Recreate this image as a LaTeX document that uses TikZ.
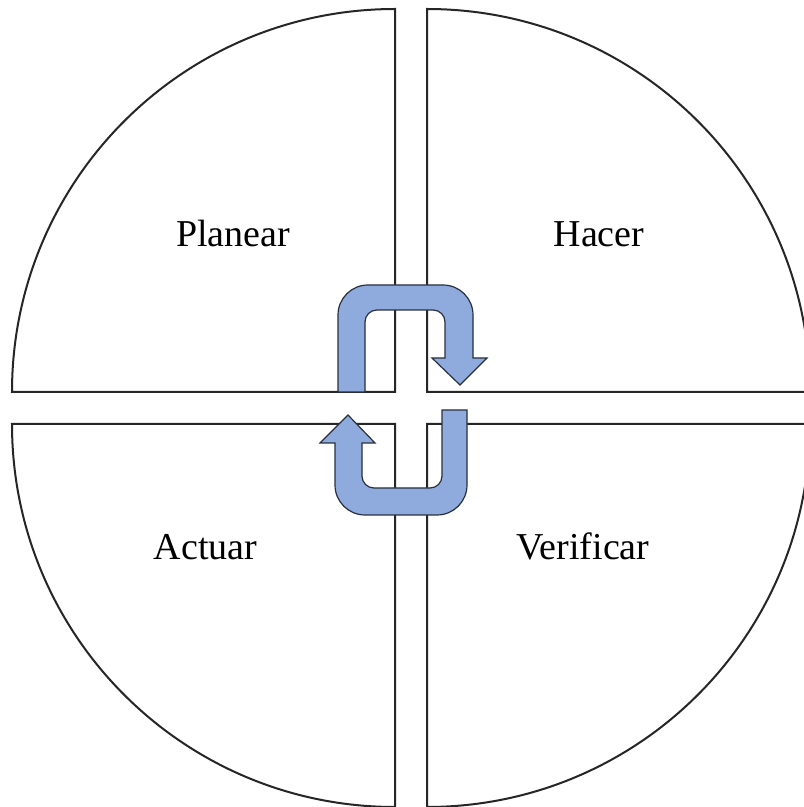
\documentclass[tikz,border=0pt]{standalone}
\usepackage{fontspec}
\setmainfont{Liberation Serif}
\definecolor{arrowfill}{RGB}{143,170,220}
\definecolor{arrowline}{RGB}{40,48,62}
\begin{document}
\begin{tikzpicture}[x=1pt,y=1pt,
  quad/.style={draw=black!85,line width=2pt,fill=white},
  uarrow/.style={draw=arrowline,line width=1.2pt,fill=arrowfill,line join=miter},
  lbl/.style={font=\fontsize{38}{40}\selectfont,anchor=base,inner sep=0pt}]
\useasboundingbox (0,0) rectangle (804,807);
\clip (0,0) rectangle (804,807);
% quadrants
\draw[quad] (395,415) -- (12,415) arc[start angle=180,end angle=90,radius=383] -- cycle;
\draw[quad] (427,415) -- (427,798) arc[start angle=90,end angle=0,radius=383] -- cycle;
\draw[quad] (395,383) -- (12,383) arc[start angle=180,end angle=270,radius=383] -- cycle;
\draw[quad] (427,383) -- (427,0) arc[start angle=270,end angle=360,radius=383] -- cycle;
% labels
\node[lbl] (planear) at (233,560) {Planear};
\node[lbl] (hacer) at (599,560) {Hacer};
\node[lbl] (actuar) at (205.5,247) {Actuar};
\node[lbl] (verificar) at (583,247) {Verificar};
% upper U-turn arrow
\draw[uarrow] (338,415) -- (338,492) arc[start angle=180,end angle=90,radius=30]
  -- (443,522) arc[start angle=90,end angle=0,radius=30]
  -- (473,449) -- (487,449) -- (460,422) -- (432,449) -- (445,449)
  -- (445,485) arc[start angle=0,end angle=90,radius=12]
  -- (377,497) arc[start angle=90,end angle=180,radius=12]
  -- (365,415) -- cycle;
% lower U-turn arrow
\draw[uarrow] (467,397) -- (467,322) arc[start angle=0,end angle=-90,radius=30]
  -- (365,292) arc[start angle=270,end angle=180,radius=30]
  -- (335,364) -- (320,364) -- (348,392) -- (375,364) -- (362,364)
  -- (362,331) arc[start angle=180,end angle=270,radius=12]
  -- (430,319) arc[start angle=270,end angle=360,radius=12]
  -- (442,397) -- cycle;
\end{tikzpicture}
\end{document}
